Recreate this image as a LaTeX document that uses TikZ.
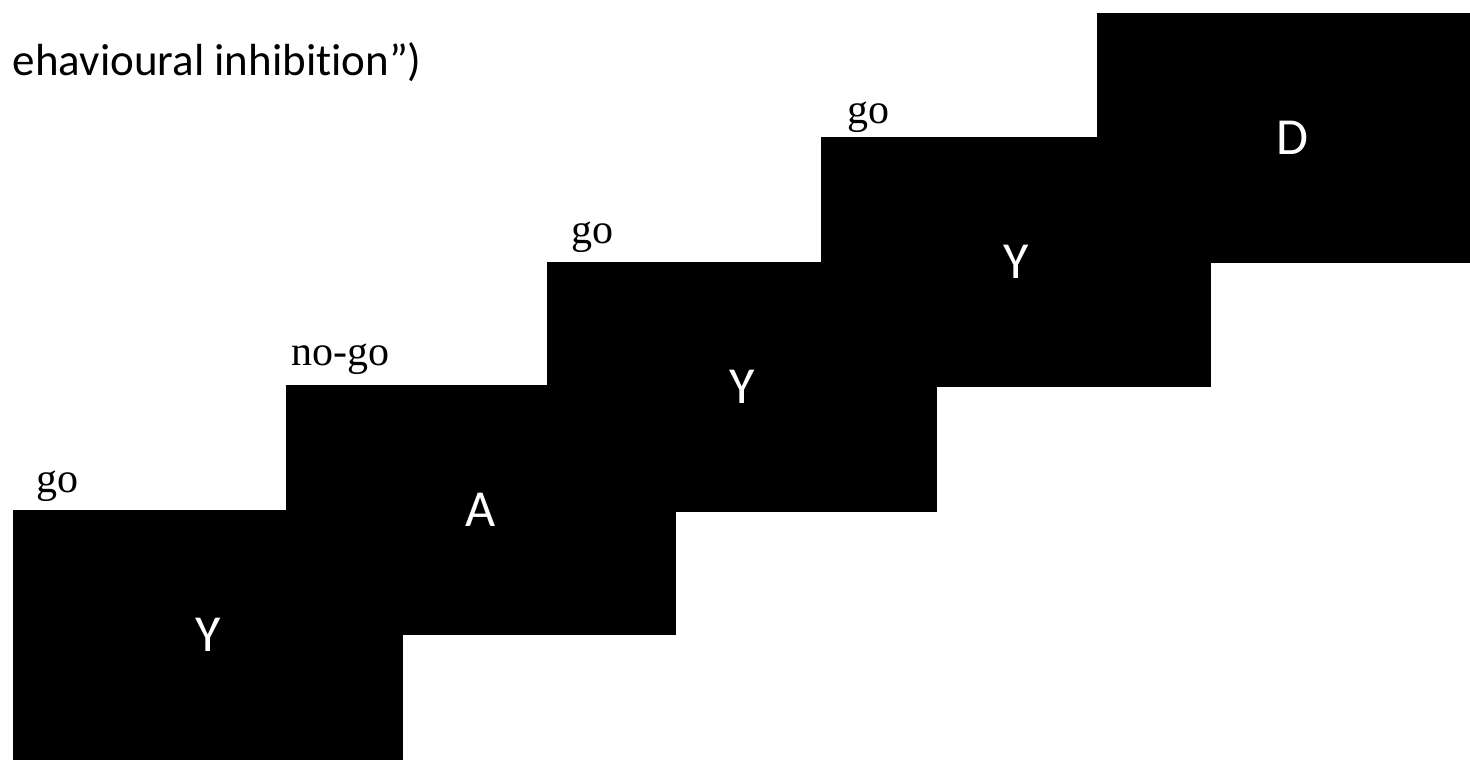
\documentclass[tikz,border=0pt]{standalone}
\usepackage{fontspec}
\setmainfont{Liberation Serif}
\newfontfamily\carl[Ligatures=NoCommon]{Carlito}
\begin{document}
\begin{tikzpicture}[x=1pt,y=-1pt,
  screen/.style={fill=black,draw=none,minimum width=390pt,minimum height=250pt,inner sep=0pt,
    text=white,font=\carl\fontsize{52}{52}\selectfont},
  cond/.style={anchor=base west,inner sep=0pt,font=\fontsize{42}{42}\selectfont}]
\useasboundingbox (0,0) rectangle (1470,763);
\clip (0,0) rectangle (1470,763);
\node[screen] (s1) at (208,635) {Y};
\node[screen] (s2) at (481,510) {A};
\node[screen] (s3) at (742,387) {Y};
\node[screen] (s4) at (1016,262) {Y};
\node[screen] (s5) at (1292,138) {D};
\node[cond] (l1) at (36,492) {go};
\node[cond] (l2) at (291,365) {no-go};
\node[cond] (l3) at (571,243) {go};
\node[cond] (l4) at (847,123) {go};
\node[anchor=base east,inner sep=0pt,font=\carl\fontsize{45}{45}\selectfont] (title) at (422,75) {ehavioural inhibition”)};
\end{tikzpicture}
\end{document}
